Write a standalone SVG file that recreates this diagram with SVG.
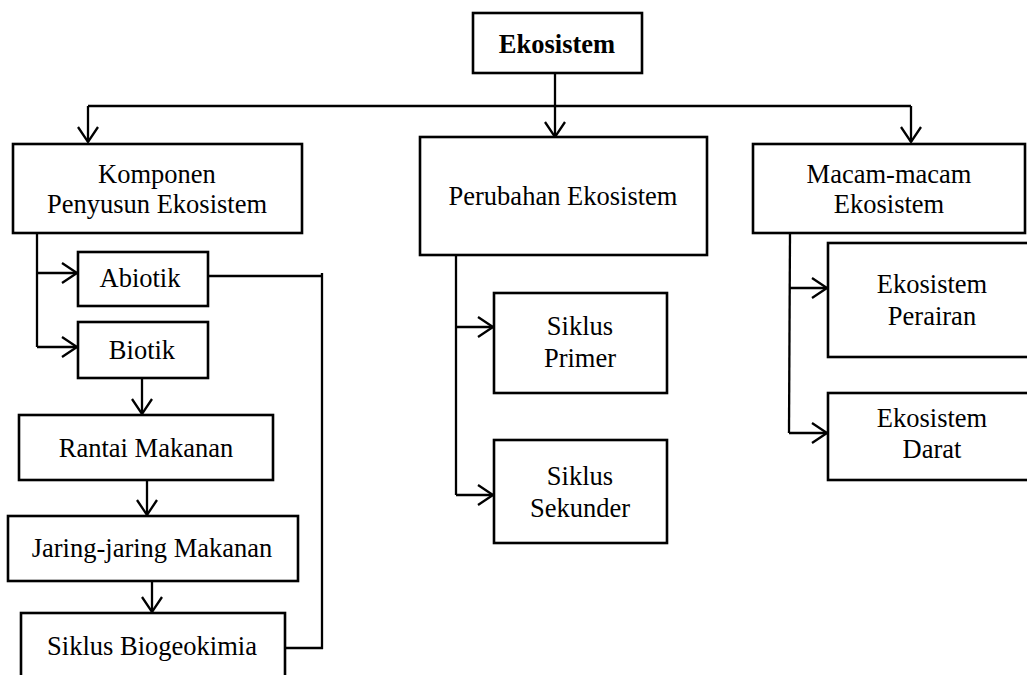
<svg xmlns="http://www.w3.org/2000/svg" width="1027" height="675" viewBox="0 0 1027 675">
<style>
.box{fill:#fff;stroke:#000;stroke-width:2.6}
.t{font-family:"Liberation Serif","Times New Roman",serif;font-size:26.5px;fill:#000;text-anchor:middle}
.b{font-weight:bold}
.c{fill:none;stroke:#000;stroke-width:2.3}
</style>
<defs>
<marker id="ah" markerUnits="userSpaceOnUse" markerWidth="20" markerHeight="24" viewBox="-17 -12 20 24" refX="0" refY="0" orient="auto">
<path d="M-15,-10 L0,0 L-15,10" fill="none" stroke="#000" stroke-width="2.3"/>
</marker>
</defs>
<rect width="1027" height="675" fill="#fff"/>
<g id="connectors">
<line class="c" x1="555" y1="73" x2="555" y2="106"/>
<line class="c" x1="88" y1="106" x2="911" y2="106" stroke-width="3"/>
<line class="c" x1="88" y1="106" x2="88" y2="142" marker-end="url(#ah)"/>
<line class="c" x1="555" y1="106" x2="555" y2="137" marker-end="url(#ah)"/>
<line class="c" x1="911" y1="106" x2="911" y2="142" marker-end="url(#ah)"/>
<line class="c" x1="37" y1="233" x2="37" y2="347"/>
<line class="c" x1="37" y1="273" x2="77" y2="273" marker-end="url(#ah)"/>
<line class="c" x1="37" y1="347" x2="77" y2="347" marker-end="url(#ah)"/>
<line class="c" x1="142" y1="378" x2="142" y2="414" marker-end="url(#ah)"/>
<line class="c" x1="147" y1="480" x2="147" y2="515" marker-end="url(#ah)"/>
<line class="c" x1="152" y1="581" x2="152" y2="612" marker-end="url(#ah)"/>
<line class="c" x1="208" y1="276" x2="322" y2="276"/>
<line class="c" x1="322" y1="273" x2="322" y2="649"/>
<line class="c" x1="282" y1="648" x2="323" y2="648"/>
<line class="c" x1="456" y1="255" x2="456" y2="495"/>
<line class="c" x1="456" y1="327" x2="493" y2="327" marker-end="url(#ah)"/>
<line class="c" x1="456" y1="495" x2="493" y2="495" marker-end="url(#ah)"/>
<line class="c" x1="790" y1="233" x2="789" y2="433"/>
<line class="c" x1="789" y1="288" x2="827" y2="288" marker-end="url(#ah)"/>
<line class="c" x1="789" y1="433" x2="827" y2="433" marker-end="url(#ah)"/>
</g>
<g id="ekosistem"><rect class="box" x="473" y="13" width="169" height="60"/><text class="t b" x="557" y="53">Ekosistem</text></g>
<g id="komponen"><rect class="box" x="13" y="144" width="289" height="89"/><text class="t" x="157" y="183">Komponen</text><text class="t" x="157" y="213">Penyusun Ekosistem</text></g>
<g id="perubahan"><rect class="box" x="420" y="137" width="287" height="118"/><text class="t" x="563" y="205">Perubahan Ekosistem</text></g>
<g id="macam"><rect class="box" x="753" y="144" width="272" height="89"/><text class="t" x="889" y="183">Macam-macam</text><text class="t" x="889" y="213">Ekosistem</text></g>
<g id="abiotik"><rect class="box" x="78" y="252" width="130" height="54"/><text class="t" x="140" y="287">Abiotik</text></g>
<g id="biotik"><rect class="box" x="78" y="322" width="130" height="56"/><text class="t" x="142" y="359">Biotik</text></g>
<g id="rantai"><rect class="box" x="19" y="415" width="254" height="65"/><text class="t" x="146" y="457">Rantai Makanan</text></g>
<g id="jaring"><rect class="box" x="8" y="516" width="290" height="65"/><text class="t" x="152" y="557">Jaring-jaring Makanan</text></g>
<g id="siklus-bio"><rect class="box" x="21" y="613" width="264" height="80"/><text class="t" x="152" y="655">Siklus Biogeokimia</text></g>
<g id="siklus-primer"><rect class="box" x="494" y="293" width="173" height="100"/><text class="t" x="580" y="335">Siklus</text><text class="t" x="580" y="367">Primer</text></g>
<g id="siklus-sekunder"><rect class="box" x="494" y="440" width="173" height="103"/><text class="t" x="580" y="485">Siklus</text><text class="t" x="580" y="517">Sekunder</text></g>
<g id="perairan"><rect class="box" x="828" y="243" width="220" height="114"/><text class="t" x="932" y="293">Ekosistem</text><text class="t" x="932" y="325">Perairan</text></g>
<g id="darat"><rect class="box" x="828" y="393" width="220" height="87"/><text class="t" x="932" y="427">Ekosistem</text><text class="t" x="932" y="458">Darat</text></g>
</svg>
